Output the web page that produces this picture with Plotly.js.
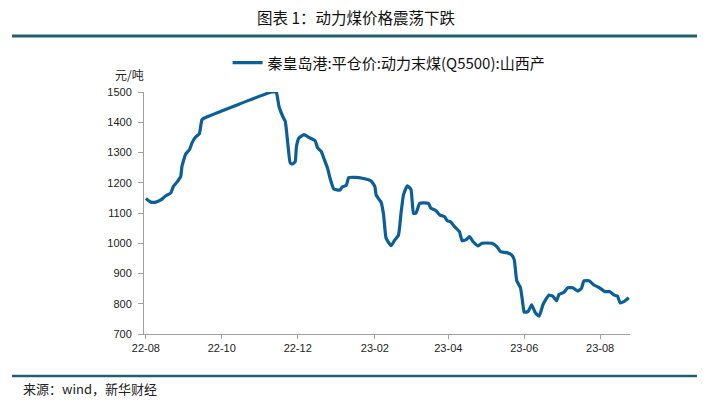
<!DOCTYPE html>
<html>
<head>
<meta charset="utf-8">
<script src="https://cdn.plot.ly/plotly-3.0.1.min.js"></script>
<style>
html,body{margin:0;padding:0;background:#fff;}
#chart{width:707px;height:403px;}
</style>
</head>
<body>
<div id="chart"></div>
<script>
// Data
const seriesName = "秦皇岛港:平仓价:动力末煤(Q5500):山西产";
const dates = [
"2022-08-01","2022-08-05","2022-08-09","2022-08-13","2022-08-17","2022-08-21","2022-08-23","2022-08-26","2022-08-29","2022-08-30",
"2022-09-02","2022-09-05","2022-09-07","2022-09-10","2022-09-13","2022-09-15","2022-09-17","2022-11-10","2022-11-13","2022-11-14",
"2022-11-16","2022-11-19","2022-11-21","2022-11-23","2022-11-25","2022-11-27","2022-11-29","2022-11-30","2022-12-02","2022-12-06",
"2022-12-10","2022-12-15","2022-12-17","2022-12-20","2022-12-22","2022-12-25","2022-12-27","2022-12-30","2023-01-04","2023-01-06",
"2023-01-09","2023-01-11","2023-01-16","2023-01-22","2023-01-29","2023-02-01","2023-02-02","2023-02-04","2023-02-06","2023-02-08",
"2023-02-10","2023-02-14","2023-02-17","2023-02-20","2023-02-22","2023-02-24","2023-02-27","2023-03-02","2023-03-04","2023-03-06",
"2023-03-09","2023-03-16","2023-03-18","2023-03-22","2023-03-25","2023-03-29","2023-03-31","2023-04-03","2023-04-06","2023-04-10",
"2023-04-12","2023-04-15","2023-04-18","2023-04-21","2023-04-25","2023-04-28","2023-05-06","2023-05-10","2023-05-13","2023-05-18",
"2023-05-22","2023-05-24","2023-05-26","2023-05-29","2023-05-31","2023-06-01","2023-06-04","2023-06-07","2023-06-10","2023-06-13",
"2023-06-16","2023-06-18","2023-06-21","2023-06-24","2023-06-27","2023-06-29","2023-07-03","2023-07-06","2023-07-10","2023-07-14",
"2023-07-17","2023-07-19","2023-07-23","2023-07-27","2023-07-31","2023-08-05","2023-08-09","2023-08-12","2023-08-15","2023-08-17",
"2023-08-20","2023-08-24"
];
const prices = [
1148,1136,1136,1143,1157,1166,1187,1202,1221,1254,
1295,1309,1331,1351,1362,1408,1414,1500,1500,1497,
1452,1419,1403,1331,1265,1262,1270,1320,1348,1359,
1350,1339,1315,1303,1281,1248,1215,1179,1176,1187,
1191,1217,1218,1215,1206,1187,1160,1147,1136,1094,
1017,992,1011,1027,1099,1160,1190,1178,1099,1099,
1132,1132,1116,1108,1094,1088,1075,1070,1055,1038,
1009,1011,1022,1005,991,1000,1000,989,972,969,
961,945,876,853,796,772,774,796,770,759,
796,812,829,825,810,831,838,853,853,842,
851,876,876,862,854,840,840,829,825,803,
807,820
];
const yTicks = [700,800,900,1000,1100,1200,1300,1400,1500];
const xTickVals = ["2022-08-01","2022-10-01","2022-12-01","2023-02-01","2023-04-01","2023-06-01","2023-08-01"];
const xTickText = ["22-08","22-10","22-12","23-02","23-04","23-06","23-08"];

const lineColor = "#0a5f98";
const barColor = "#235f6c";
const cjk = "'Noto Sans CJK SC', 'Liberation Sans', sans-serif";

const trace = {
  x: dates, y: prices, type: "scatter", mode: "lines",
  name: seriesName,
  line: {color: lineColor, width: 3.2, shape: "spline", smoothing: 0.4},
  cliponaxis: false,
  hoverinfo: "skip"
};

const layout = {
  width: 707, height: 403,
  margin: {l: 144, r: 77, t: 92, b: 69},
  paper_bgcolor: "#ffffff", plot_bgcolor: "#ffffff",
  font: {family: "'Liberation Sans', Arial, sans-serif", size: 11, color: "#222"},
  showlegend: true,
  legend: {
    x: 0.172, y: 1.12, xanchor: "left", yanchor: "middle",
    orientation: "h", bgcolor: "rgba(0,0,0,0)",
    font: {family: cjk, size: 15, color: "#111"},
    itemwidth: 30
  },
  xaxis: {
    type: "date",
    range: ["2022-07-30 12:00", "2023-08-25"],
    tickvals: xTickVals, ticktext: xTickText,
    showgrid: false, zeroline: false,
    showline: true, linecolor: "#a0a0a0", linewidth: 1,
    ticks: "outside", ticklen: 4, tickcolor: "#a0a0a0",
    tickfont: {family: "'Liberation Sans', Arial, sans-serif", size: 11, color: "#222"}
  },
  yaxis: {
    range: [700, 1500],
    tickvals: yTicks,
    showgrid: false, zeroline: false,
    showline: true, linecolor: "#a0a0a0", linewidth: 1,
    ticks: "outside", ticklen: 5, tickcolor: "#a0a0a0",
    ticklabelstandoff: 4,
    tickfont: {family: "'Liberation Sans', Arial, sans-serif", size: 11, color: "#222"}
  },
  shapes: [
    {type: "line", xref: "paper", yref: "paper", x0: -0.2716, x1: 1.1379, y0: 1.2314, y1: 1.2314,
     line: {color: barColor, width: 3}},
    {type: "line", xref: "paper", yref: "paper", x0: -0.2716, x1: 1.1379, y0: -0.1736, y1: -0.1736,
     line: {color: barColor, width: 2.5}}
  ],
  annotations: [
    {text: "图表 1：动力煤价格震荡下跌", xref: "paper", yref: "paper",
     x: (356 - 144) / 486, y: (334 - 17) / 242, xanchor: "center", yanchor: "middle",
     showarrow: false, font: {family: cjk, size: 15.5, color: "#111"}},
    {text: "元/吨", xref: "paper", yref: "paper",
     x: (113 - 144) / 486, y: (334 - 74) / 242, xanchor: "left", yanchor: "middle",
     showarrow: false, font: {family: cjk, size: 12, color: "#222"}},
    {text: "来源：wind，新华财经", xref: "paper", yref: "paper",
     x: (21 - 144) / 486, y: (334 - 388) / 242, xanchor: "left", yanchor: "middle",
     showarrow: false, font: {family: cjk, size: 13, color: "#222"}}
  ]
};

Plotly.newPlot("chart", [trace], layout, {staticPlot: true, displayModeBar: false});
</script>
</body>
</html>
